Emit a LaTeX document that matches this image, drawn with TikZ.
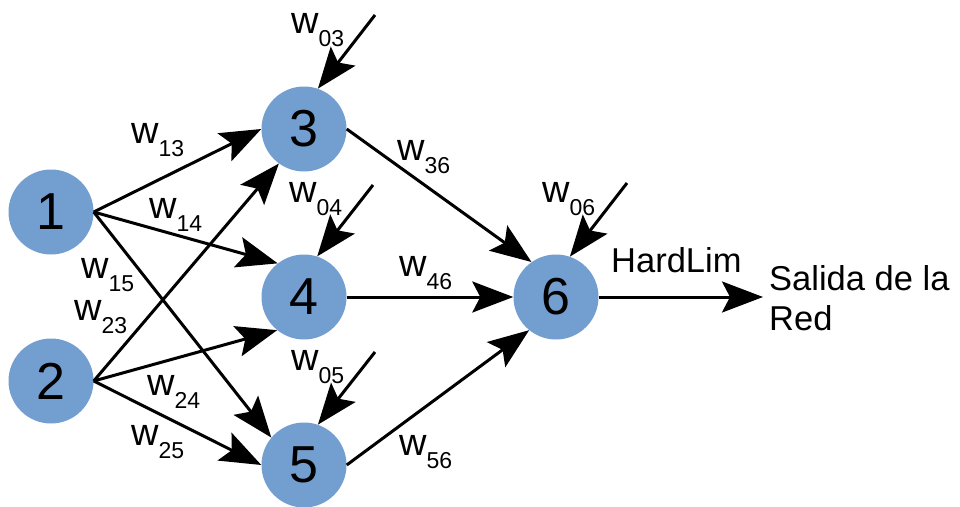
\documentclass[tikz,border=0pt]{standalone}
\usepackage{fontspec}
\setmainfont{Liberation Sans}
\usetikzlibrary{arrows.meta}
\definecolor{neuroncol}{HTML}{729FCF}
% weight label: w with a lowered, smaller index
\newcommand{\wsub}[1]{w\raisebox{-13pt}{\fontsize{23}{23}\selectfont #1}}

\begin{document}
\begin{tikzpicture}[x=1pt,y=-1pt,
  neuron/.style={circle, fill=neuroncol, minimum size=85pt, inner sep=0pt,
                 font=\fontsize{52}{52}\selectfont},
  link/.style={line width=3pt, -{Stealth[length=41pt,width=31pt,inset=8pt]}},
  wlab/.style={anchor=base west, inner sep=0pt, font=\fontsize{38}{38}\selectfont},
  plain/.style={anchor=base west, inner sep=0pt, font=\fontsize{34.5}{34.5}\selectfont}]
\useasboundingbox (0,0) rectangle (960,506);

% neurons
\node[neuron] (n1) at (51,212) {1};
\node[neuron] (n2) at (51,381) {2};
\node[neuron] (n3) at (304,129) {3};
\node[neuron] (n4) at (304,297) {4};
\node[neuron] (n5) at (304,465) {5};
\node[neuron] (n6) at (556,297) {6};

% input layer to hidden layer
\draw[link] (n1.east) -- (n3.west);
\draw[link] (n1.east) -- (n4.128);
\draw[link] (n1.east) -- (n5.140);
\draw[link] (n2.east) -- (n3.234);
\draw[link] (n2.east) -- (n4.231);
\draw[link] (n2.east) -- (n5.west);

% hidden layer to output neuron
\draw[link] (n3.east) -- (n6.125);
\draw[link] (n4.east) -- (n6.west);
\draw[link] (n5.east) -- (n6.231);

% network output
\coordinate (out) at (763,297);
\draw[link] (n6.east) -- (out);

% bias inputs
\coordinate (b3) at (375,15);
\coordinate (b4) at (373,185);
\coordinate (b5) at (375,352);
\coordinate (b6) at (627,183);
\draw[link] (b3) -- (n3.71);
\draw[link] (b4) -- (n4.72);
\draw[link] (b5) -- (n5.71);
\draw[link] (b6) -- (n6.71);

% weight labels
\node[wlab] (l13) at (131,143) {\wsub{13}};
\node[wlab] (l14) at (149,218) {\wsub{14}};
\node[wlab] (l15) at (81,278) {\wsub{15}};
\node[wlab] (l23) at (74,320) {\wsub{23}};
\node[wlab] (l24) at (147,395) {\wsub{24}};
\node[wlab] (l25) at (131,445) {\wsub{25}};
\node[wlab] (l03) at (291,33) {\wsub{03}};
\node[wlab] (l04) at (289,202) {\wsub{04}};
\node[wlab] (l05) at (291,370) {\wsub{05}};
\node[wlab] (l06) at (542,202) {\wsub{06}};
\node[wlab] (l36) at (397,160) {\wsub{36}};
\node[wlab] (l46) at (399,276) {\wsub{46}};
\node[wlab] (l56) at (399,455) {\wsub{56}};

% activation and output text
\node[plain] (hl) at (611,272) {HardLim};
\node[plain] (salida) at (769,290) {Salida de la};
\node[plain] (red) at (769,330) {Red};
\end{tikzpicture}
\end{document}
